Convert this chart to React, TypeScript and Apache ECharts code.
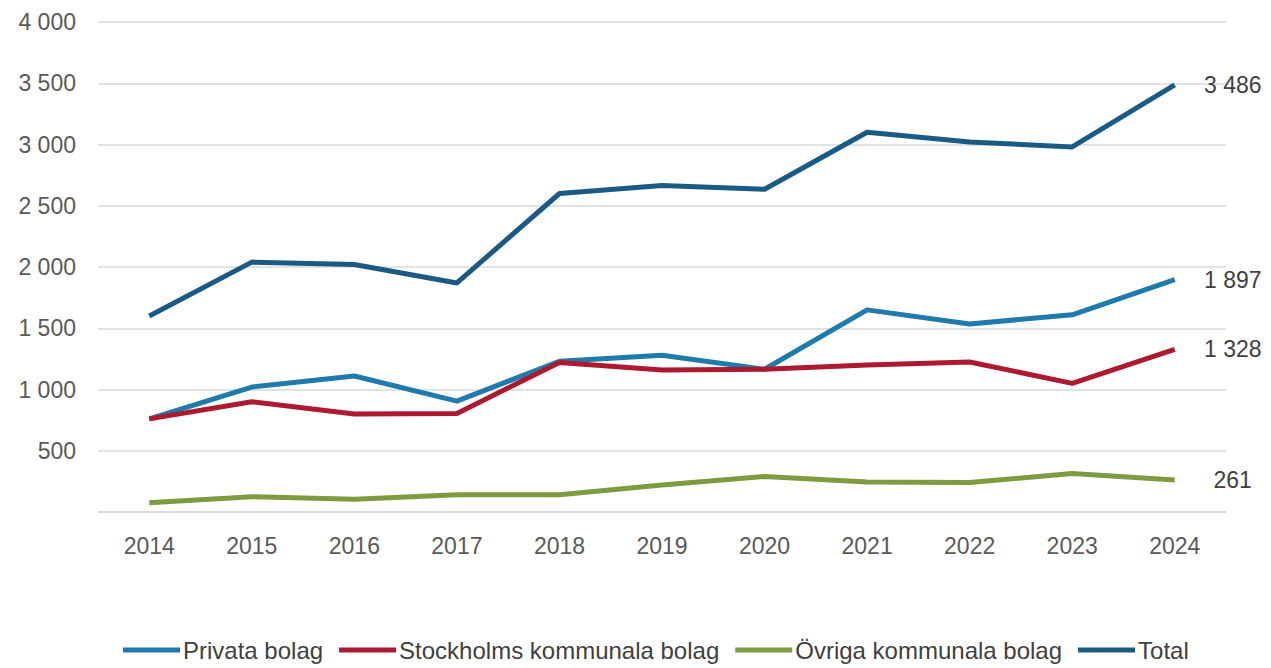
import React, { useEffect, useRef } from "react";
import * as echarts from "echarts";

const years = ["2014", "2015", "2016", "2017", "2018", "2019", "2020", "2021", "2022", "2023", "2024"];
const privata = [760, 1020, 1110, 905, 1230, 1280, 1165, 1650, 1535, 1610, 1897];
const stockholms = [760, 900, 800, 805, 1220, 1160, 1165, 1200, 1225, 1050, 1328];
const ovriga = [75, 125, 105, 140, 140, 220, 290, 245, 240, 315, 261];
const total = [1600, 2040, 2020, 1870, 2600, 2665, 2635, 3100, 3020, 2980, 3486];

const names = ["Privata bolag", "Stockholms kommunala bolag", "Övriga kommunala bolag", "Total"];
const colors = ["#1f7bab", "#ad1a30", "#7d9b3f", "#1a5a85"];

const fmt = (v: number) => String(Math.round(v)).replace(/\B(?=(\d{3})+(?!\d))/g, " ");

export default function App() {
  const ref = useRef<HTMLDivElement>(null);
  useEffect(() => {
    if (!ref.current) return;
    const chart = echarts.init(ref.current, null, { renderer: "svg" });
    const seriesData = [privata, stockholms, ovriga, total];
    chart.setOption({
      animation: false,
      grid: { left: 98, right: 45, top: 22, bottom: 156 },
      legend: {
        left: 118,
        top: 633,
        icon: "rect",
        itemWidth: 57,
        itemHeight: 5,
        itemGap: 16,
        data: names,
        textStyle: {
          fontFamily: "'Liberation Sans', Arial, sans-serif",
          fontSize: 24,
          color: "#404040",
          padding: [0, 0, 0, -2],
        },
      },
      xAxis: {
        type: "category",
        data: years,
        boundaryGap: true,
        axisLine: { show: true, lineStyle: { color: "#d9d9d9", width: 1.5 } },
        axisTick: { show: false },
        axisLabel: {
          margin: 22,
          fontFamily: "'Liberation Sans', Arial, sans-serif",
          fontSize: 23,
          color: "#595959",
        },
      },
      yAxis: {
        type: "value",
        min: 0,
        max: 4000,
        interval: 500,
        axisLine: { show: false },
        axisTick: { show: false },
        splitLine: { lineStyle: { color: "#d9d9d9", width: 1.5 } },
        axisLabel: {
          margin: 22,
          fontFamily: "'Liberation Sans', Arial, sans-serif",
          fontSize: 23,
          color: "#595959",
          formatter: (v: number) => (v === 0 ? "" : fmt(v)),
        },
      },
      series: names.map((n, i) => ({
        name: n,
        type: "line",
        data: seriesData[i],
        showSymbol: false,
        symbol: "none",
        lineStyle: { color: colors[i], width: 5 },
        itemStyle: { color: colors[i] },
        endLabel: {
          show: true,
          formatter: (p: any) => fmt(p.value),
          distance: 0,
          offset: [58, 0],
          align: "center",
          fontFamily: "'Liberation Sans', Arial, sans-serif",
          fontSize: 23,
          color: "#404040",
        },
      })),
    });
    return () => chart.dispose();
  }, []);
  return (
    <div
      ref={ref}
      style={{ position: "fixed", left: 0, top: 0, width: 1271, height: 668, background: "#fff" }}
    />
  );
}
